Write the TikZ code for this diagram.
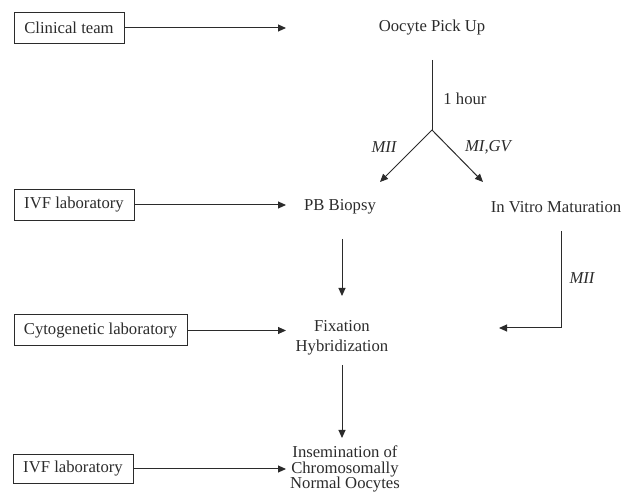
\documentclass[tikz,border=0pt]{standalone}
\usepackage{fontspec}
\setmainfont{Liberation Serif}
\usetikzlibrary{positioning,arrows.meta}
\definecolor{inkgray}{HTML}{2B2B2B}

\begin{document}
\begin{tikzpicture}[x=0.6pt,y=0.6pt, color=inkgray, line width=0.6pt,
  unitbox/.style={draw=inkgray, line width=0.6pt, minimum height=18.6pt, inner sep=0pt},
  stage/.style={inner sep=0pt, align=center},
  tag/.style={inner sep=0pt, font=\itshape},
  flow/.style={-{Triangle[length=4.8pt,width=4.2pt]}}]
\useasboundingbox (0,0) rectangle (623,497);
\node[unitbox, minimum width=66pt] (clin) at (69,469) {Clinical team};
\node[unitbox, minimum width=72pt] (ivf1) at (74,292) {IVF laboratory};
\node[unitbox, minimum width=103.8pt] (cyto) at (100.5,166.5) {Cytogenetic laboratory};
\node[unitbox, minimum width=72pt, minimum height=17.4pt] (ivf2) at (73,28) {IVF laboratory};
\node[stage] (pickup) at (432,469) {Oocyte Pick Up};
\node[stage] (biopsy) at (340,290) {PB Biopsy};
\node[stage] (ivm) at (556,290) {In Vitro Maturation};
\node[stage] (fix) at (342,159) {Fixation\\Hybridization};
\node[stage, font=\fontsize{10}{9.4}\selectfont] (insem) at (345,28) {Insemination of\\Chromosomally\\Normal Oocytes};
\node[stage] (hour) at (465,398) {1 hour};
\node[tag] (miil) at (384,350) {MII};
\node[tag] (migv) at (488,350) {MI,GV};
\node[tag] (miir) at (582,219) {MII};
\coordinate (split) at (432,367);
\coordinate (tipl) at (380,315);
\coordinate (tipr) at (483,315);
\coordinate (bend) at (561,169);
\coordinate (back) at (499,169);
\draw[flow, shorten >=87.6pt] (clin) -- (pickup.center);
\draw[flow, shorten >=32.4pt] (ivf1) -- (ivf1 -| biopsy.center);
\draw[flow, shorten >=33.6pt] (cyto) -- (cyto -| fix.center);
\draw[flow, shorten >=35.4pt] (ivf2) -- (insem.center);
\draw[shorten <=19.2pt] (pickup.center) -- (split);
\draw[flow] (split) -- (tipl);
\draw[flow] (split) -- (tipr);
\draw[flow, shorten <=19.2pt, shorten >=25.2pt] (biopsy.center -| fix.center) -- (fix.center);
\draw[flow, shorten <=16.2pt, shorten >=18.6pt] (fix.center) -- (fix.center |- insem.center);
\draw[flow, shorten <=14.4pt] (ivm.center -| bend) -- (bend) -- (back);
\end{tikzpicture}
\end{document}
